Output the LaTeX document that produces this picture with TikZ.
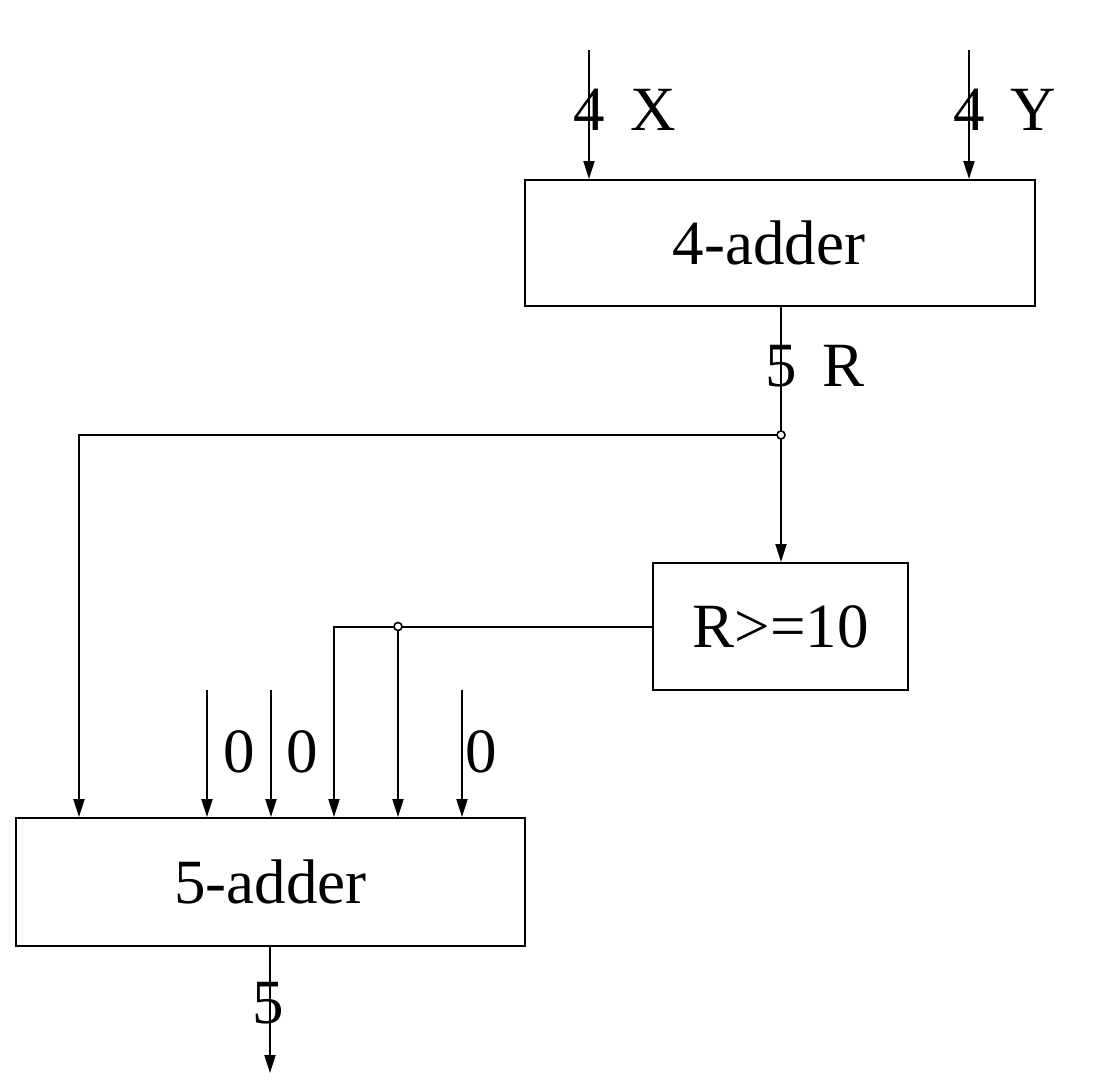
\documentclass[tikz,border=0pt]{standalone}
\usepackage{fontspec}
\setmainfont{Liberation Serif}
\usetikzlibrary{arrows.meta}
\begin{document}
\begin{tikzpicture}[x=0.5pt,y=-0.5pt, line width=1pt,
  blk/.style={draw, line width=1pt, inner sep=0pt, font=\fontsize{31.5}{36}\selectfont},
  lbl/.style={font=\fontsize{31.5}{36}\selectfont, inner sep=0pt},
  sig/.style={-{Triangle[length=9pt,width=5.5pt]}},
  jn/.style={circle, draw, fill=white, inner sep=0pt, minimum size=4pt, line width=0.8pt}]
\useasboundingbox (0,0) rectangle (1094,1082);
% blocks
\node[blk, minimum width=255pt, minimum height=63pt] (add4) at (780,243) {4-adder\hspace*{11pt}};
\node[blk, minimum width=127.5pt, minimum height=63.5pt] (cmp) at (780.5,626.5) {R>=10};
\node[blk, minimum width=254.5pt, minimum height=64pt] (add5) at (270.5,882) {5-adder};
% helper coordinates
\coordinate (xin) at (589,50);
\coordinate (yin) at (969,50);
\coordinate (j1) at (781,435);
\coordinate (t1) at (79,0);
\coordinate (t2) at (398,0);
\coordinate (t3) at (334,0);
\coordinate (j2) at (cmp.west -| t2);
\coordinate (z1) at (207,690);
\coordinate (z2) at (271,690);
\coordinate (z3) at (462,690);
\coordinate (out) at (270,1073);
% inputs
\draw[sig] (xin) -- (xin |- add4.north);
\draw[sig] (yin) -- (yin |- add4.north);
\node[lbl] (lx4) at (589,110) {4};
\node[lbl] (lx) at (653,110) {X};
\node[lbl] (ly4) at (969,110) {4};
\node[lbl] (ly) at (1033,110) {Y};
% R bus
\draw (add4.south -| j1) -- (j1);
\draw[sig] (j1) -- (cmp.north -| j1);
\draw[sig] (j1) -| (t1 |- add5.north);
\node[lbl] (lr5) at (781,366) {5};
\node[lbl] (lr) at (844,366) {R};
% comparator output
\draw (cmp.west) -- (j2);
\draw[sig] (j2) -| (t3 |- add5.north);
\draw[sig] (j2) -- (j2 |- add5.north);
% zero inputs
\draw[sig] (z1) -- (z1 |- add5.north);
\draw[sig] (z2) -- (z2 |- add5.north);
\draw[sig] (z3) -- (z3 |- add5.north);
\node[lbl] (l01) at (239,752) {0};
\node[lbl] (l02) at (302,752) {0};
\node[lbl] (l03) at (481,752) {0};
% output
\draw[sig] (add5.south -| out) -- (out);
\node[lbl] (lo5) at (268,1003) {5};
% junction dots
\node[jn] (d1) at (j1) {};
\node[jn] (d2) at (j2) {};
\end{tikzpicture}
\end{document}
